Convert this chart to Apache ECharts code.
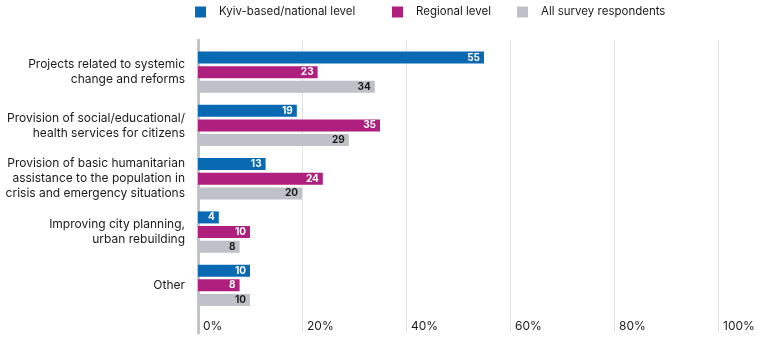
<!DOCTYPE html>
<html>
<head>
<meta charset="utf-8">
<script src="https://cdn.jsdelivr.net/npm/echarts@6/dist/echarts.min.js"></script>
<style>html,body{margin:0;padding:0;background:#fff}#c{width:764px;height:364px}</style>
</head>
<body>
<div id="c"></div>
<script>
var categories = [
  "Projects related to systemic\nchange and reforms",
  "Provision of social/educational/\nhealth services for citizens",
  "Provision of basic humanitarian\nassistance to the population in\ncrisis and emergency situations",
  "Improving city planning,\nurban rebuilding",
  "Other"
];
var seriesNames = ["Kyiv-based/national level", "Regional level", "All survey respondents"];
var kyiv = [55, 19, 13, 4, 10];
var regional = [23, 35, 24, 10, 8];
var allResp = [34, 29, 20, 8, 10];
var tickValues = [0, 20, 40, 60, 80, 100];
var colors = ["#0a69b3", "#ae1f7e", "#bec1c7"];
var labelColors = ["#ffffff", "#ffffff", "#1a1a1a"];
var FONT = "Inter";

var chart = echarts.init(document.getElementById('c'), null, {renderer: 'canvas'});
var dataSets = [kyiv, regional, allResp];
var series = dataSets.map(function (d, i) {
  return {
    name: seriesNames[i],
    type: 'bar',
    xAxisIndex: 1,
    yAxisIndex: 1,
    data: d,
    barWidth: 12,
    barGap: '22%',
    itemStyle: {color: colors[i]},
    label: {
      show: true,
      position: 'insideRight',
      distance: 4,
      color: labelColors[i],
      fontFamily: FONT,
      fontWeight: 'bold',
      fontSize: 10
    },
    emphasis: {disabled: true},
    animation: false
  };
});
var legendLefts = [195, 392, 517];
var legends = seriesNames.map(function (n, i) {
  return {
    data: [n],
    left: legendLefts[i],
    top: 6,
    padding: 0,
    itemWidth: 11,
    itemHeight: 11,
    icon: 'rect',
    selectedMode: false,
    textStyle: {fontFamily: FONT, fontSize: 11.5, color: '#1a1a1a', padding: [0, 0, 0, 8]}
  };
});
chart.setOption({
  animation: false,
  legend: legends,
  grid: [
    {left: 198, width: 520, top: 40, height: 293},
    {left: 198, width: 520, top: 45.5, height: 266.5}
  ],
  xAxis: [
    {
      gridIndex: 0, type: 'value', min: 0, max: 100, interval: 20,
      axisLine: {show: false}, axisTick: {show: false},
      splitLine: {show: true, lineStyle: {color: '#e1e1e1', width: 1}},
      axisLabel: {
        margin: -13, align: 'left', padding: [0, 0, 0, 5],
        formatter: function (v) { return tickValues.indexOf(v) >= 0 ? v + '%' : ''; },
        fontFamily: FONT, fontSize: 12, color: '#1a1a1a'
      }
    },
    {
      gridIndex: 1, type: 'value', min: 0, max: 100, show: false
    }
  ],
  yAxis: [
    {
      gridIndex: 0, type: 'value', min: 0, max: 1, offset: 1.5,
      axisLine: {show: true, lineStyle: {color: '#c1c4c9', width: 3}},
      axisTick: {show: false}, axisLabel: {show: false}, splitLine: {show: false}
    },
    {
      gridIndex: 1, type: 'category', inverse: true, data: categories,
      axisLine: {show: false}, axisTick: {show: false},
      axisLabel: {margin: 13, fontFamily: FONT, fontSize: 12, lineHeight: 15, color: '#1a1a1a', align: 'right'}
    }
  ],
  series: series
});
</script>
</body>
</html>
